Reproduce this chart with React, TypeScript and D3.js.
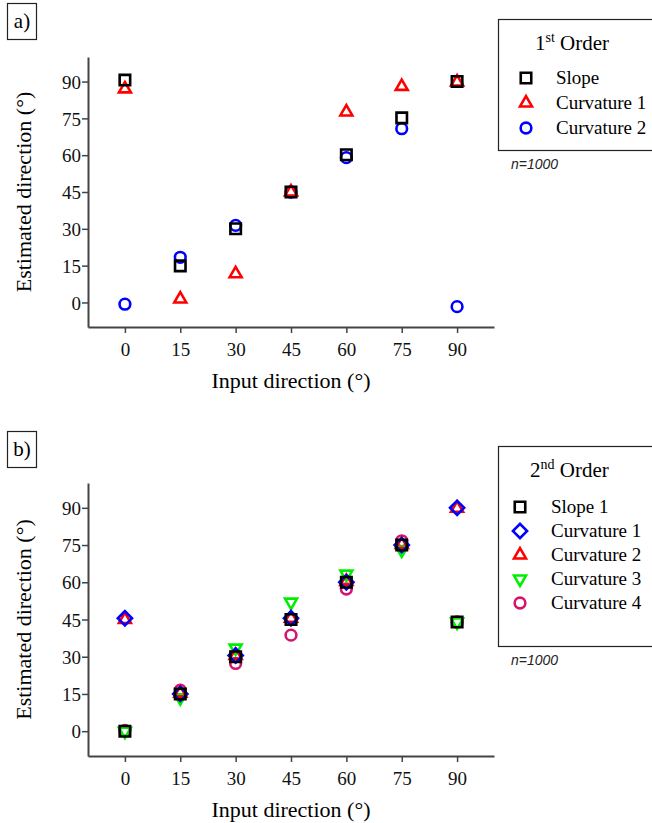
import React, { useEffect, useRef } from "react";
import * as d3 from "d3";

const inputs = [0, 15, 30, 45, 60, 75, 90];
const tickValues = [0, 15, 30, 45, 60, 75, 90];

// 1st order estimates
const slopeA = [90.6, 14.9, 30, 45, 60.2, 75.2, 90];
const curv1A = [87, 1.4, 11.7, 45, 77.6, 88, 89.8];
const curv2A = [-0.7, 18.4, 31.4, 45, 59, 70.8, -1.7];

// 2nd order estimates
const slopeB = [0, 15, 30, 45, 60, 75, 44];
const curv1B = [45.5, 15, 30.5, 45.5, 60, 75, 90];
const curv2B = [45, 15.3, 30.5, 45.5, 60.3, 75.2, 89.8];
const curv3B = [0, 13.5, 33.5, 52, 63.3, 73, 44];
const curv4B = [0.3, 16.5, 27.3, 38.7, 57.3, 76.7, 44];

const W = 652;
const H = 823;

const App = () => {
  const svgRef = useRef(null);

  useEffect(() => {
    const svg = d3.select(svgRef.current);
    svg.selectAll("*").remove();

    const serif = "'Liberation Serif', 'Times New Roman', serif";
    const sans = "'Liberation Sans', Arial, sans-serif";

    const xScale = d3.scaleLinear().domain([-10, 100]).range([88, 494]);

    const markerPath = (shape) => {
      if (shape === "square") return d3.symbol(d3.symbolSquare, 110)();
      if (shape === "diamond") return d3.symbol(d3.symbolSquare, 100)();
      if (shape === "circle") return d3.symbol(d3.symbolCircle, 90)();
      return d3.symbol(d3.symbolTriangle, 62)();
    };
    const markerRot = (shape) =>
      shape === "diamond" ? 45 : shape === "down" ? 180 : 0;

    const drawPanel = (cfg) => {
      const g = svg.append("g");
      const yScale = d3
        .scaleLinear()
        .domain([-10, 100])
        .range([cfg.bottom, cfg.top]);

      // panel tag
      g.append("rect")
        .attr("x", 7.5)
        .attr("y", cfg.tagY + 0.5)
        .attr("width", 29)
        .attr("height", 36)
        .attr("fill", "none")
        .attr("stroke", "#222")
        .attr("stroke-width", 1.2);
      g.append("text")
        .attr("x", 22)
        .attr("y", cfg.tagY + 25)
        .attr("text-anchor", "middle")
        .attr("font-family", serif)
        .attr("font-size", 21)
        .text(cfg.tag);

      // axes
      const xAxis = g
        .append("g")
        .attr("transform", `translate(0,${cfg.bottom})`)
        .call(d3.axisBottom(xScale).tickValues(tickValues).tickSize(6).tickSizeOuter(0));
      const yAxis = g
        .append("g")
        .attr("transform", `translate(88,0)`)
        .call(d3.axisLeft(yScale).tickValues(tickValues).tickSize(6).tickSizeOuter(0));
      [xAxis, yAxis].forEach((ax) => {
        ax.select(".domain").attr("stroke", "#444").attr("stroke-width", 2);
        ax.selectAll(".tick line").attr("stroke", "#444").attr("stroke-width", 1.5);
        ax.selectAll(".tick text")
          .attr("font-family", serif)
          .attr("font-size", 19)
          .attr("fill", "#111");
      });
      xAxis.selectAll(".tick text").attr("dy", "1.05em");
      yAxis.selectAll(".tick text").attr("x", -7).attr("dy", "0.35em");

      g.append("text")
        .attr("x", 291)
        .attr("y", cfg.bottom + 61)
        .attr("text-anchor", "middle")
        .attr("font-family", serif)
        .attr("font-size", 22)
        .text("Input direction (°)");
      g.append("text")
        .attr("transform", `translate(31,${(cfg.top + cfg.bottom) / 2}) rotate(-90)`)
        .attr("text-anchor", "middle")
        .attr("font-family", serif)
        .attr("font-size", 22)
        .text("Estimated direction (°)");

      // markers (first series ends on top)
      cfg.series
        .slice()
        .reverse()
        .forEach((s) => {
          g.append("g")
            .selectAll("path")
            .data(s.values)
            .join("path")
            .attr("d", markerPath(s.shape))
            .attr(
              "transform",
              (d, i) =>
                `translate(${xScale(inputs[i])},${yScale(d)}) rotate(${markerRot(s.shape)})`
            )
            .attr("fill", "none")
            .attr("stroke", s.color)
            .attr("stroke-width", 2.6);
        });

      // legend
      const lg = g.append("g");
      lg.append("rect")
        .attr("x", 498.5)
        .attr("y", cfg.legTop + 0.5)
        .attr("width", 170)
        .attr("height", cfg.legH)
        .attr("fill", "none")
        .attr("stroke", "#222")
        .attr("stroke-width", 1.2);
      const title = lg
        .append("text")
        .attr("x", cfg.titleX)
        .attr("y", cfg.legTop + 31)
        .attr("font-family", serif)
        .attr("font-size", 21);
      title.append("tspan").text(cfg.titleNum);
      title
        .append("tspan")
        .attr("font-size", 14)
        .attr("dy", -8)
        .text(cfg.titleSup);
      title.append("tspan").attr("dy", 8).text(" Order");

      cfg.series.forEach((s, i) => {
        const y = cfg.legTop + cfg.itemStart + i * cfg.itemGap;
        lg.append("path")
          .attr("d", markerPath(s.shape))
          .attr("transform", `translate(${cfg.markX},${y}) rotate(${markerRot(s.shape)})`)
          .attr("fill", "none")
          .attr("stroke", s.color)
          .attr("stroke-width", 2.6);
        lg.append("text")
          .attr("x", cfg.textX)
          .attr("y", y + 6)
          .attr("font-family", serif)
          .attr("font-size", 19)
          .text(s.name);
      });

      g.append("text")
        .attr("x", 511)
        .attr("y", cfg.legTop + cfg.legH + 19)
        .attr("font-family", sans)
        .attr("font-style", "italic")
        .attr("font-size", 14)
        .attr("fill", "#222")
        .text("n=1000");
    };

    drawPanel({
      tag: "a)",
      tagY: 3,
      top: 57,
      bottom: 327,
      legTop: 19,
      legH: 131,
      titleX: 535,
      titleNum: "1",
      titleSup: "st",
      markX: 526,
      textX: 556,
      itemStart: 59,
      itemGap: 25,
      series: [
        { name: "Slope", values: slopeA, shape: "square", color: "#000000" },
        { name: "Curvature 1", values: curv1A, shape: "up", color: "#ff0000" },
        { name: "Curvature 2", values: curv2A, shape: "circle", color: "#0000ff" },
      ],
    });

    drawPanel({
      tag: "b)",
      tagY: 431,
      top: 483,
      bottom: 756,
      legTop: 446,
      legH: 200,
      titleX: 530,
      titleNum: "2",
      titleSup: "nd",
      markX: 520,
      textX: 551,
      itemStart: 61,
      itemGap: 24,
      series: [
        { name: "Slope 1", values: slopeB, shape: "square", color: "#000000" },
        { name: "Curvature 1", values: curv1B, shape: "diamond", color: "#0000ff" },
        { name: "Curvature 2", values: curv2B, shape: "up", color: "#ff0000" },
        { name: "Curvature 3", values: curv3B, shape: "down", color: "#00ee00" },
        { name: "Curvature 4", values: curv4B, shape: "circle", color: "#d4146e" },
      ],
    });
  }, []);

  return (
    <svg
      ref={svgRef}
      width={W}
      height={H}
      style={{ position: "absolute", left: 0, top: 0, background: "#fff" }}
    />
  );
};

export default App;
